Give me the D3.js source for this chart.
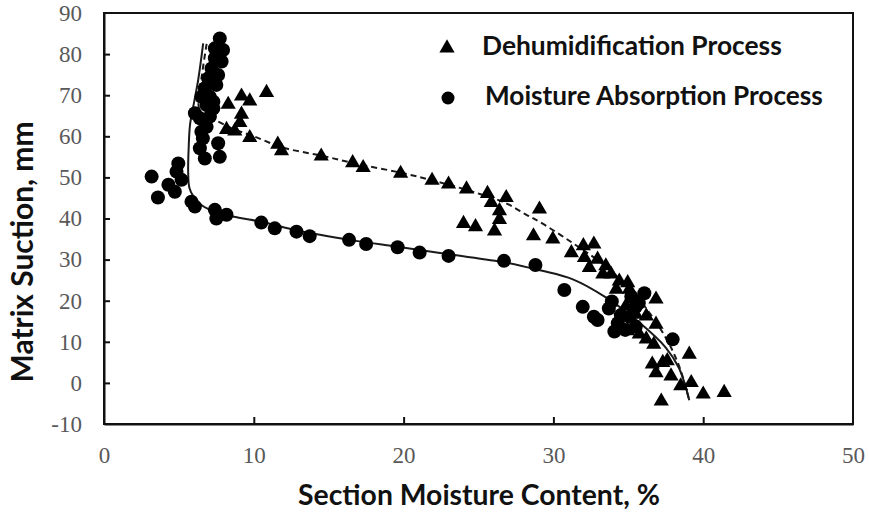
<!DOCTYPE html>
<html><head><meta charset="utf-8">
<script src="https://cdn.jsdelivr.net/npm/d3@7"></script>
<style>body{margin:0;background:#fff}svg{display:block}</style>
</head><body>
<svg id="c" width="869" height="514"></svg>
<script>
// ---- data ----
const xTicks = [0, 10, 20, 30, 40, 50];
const yTicks = [-10, 0, 10, 20, 30, 40, 50, 60, 70, 80, 90];
const xTitle = "Section Moisture Content, %";
const yTitle = "Matrix Suction, mm";
const seriesNames = ["Dehumidification Process", "Moisture Absorption Process"];

// Dehumidification Process (triangles)
const dehumX = [10.85,9.18,9.73,8.29,9.18,9.07,8.18,8.73,9.73,11.6,11.85,14.5,16.6,17.3,19.8,21.9,23.0,24.2,25.6,26.85,25.85,26.4,26.4,24.0,24.8,26.07,29.07,28.67,29.96,31.2,32.0,32.7,32.07,32.4,32.95,33.5,33.3,33.85,34.4,34.96,35.07,34.2,36.85,34.85,35.5,36.2,36.85,34.96,35.73,36.2,36.7,39.07,36.6,37.3,36.85,37.85,37.6,39.2,38.5,40.0,41.4,37.2];
const dehumY = [70.9,70.0,68.8,68.0,65.6,63.6,61.9,61.5,59.9,58.3,56.7,55.4,53.8,52.6,51.2,49.5,48.6,47.4,46.3,45.3,44.1,42.1,40.0,39.0,38.2,37.2,42.5,36.0,35.2,31.9,33.6,34.0,30.7,28.3,30.3,28.7,26.7,26.7,25.0,24.6,23.0,23.0,20.6,19.0,16.9,16.5,14.5,12.9,12.1,10.9,9.6,7.2,4.8,5.2,2.7,1.9,5.6,0.3,-0.5,-2.5,-2.1,-4.2];

// Moisture Absorption Process (circles)
const absorbX = [7.73,7.95,7.4,7.4,7.18,6.95,7.5,6.73,7.3,6.85,6.07,6.4,7.07,6.5,6.85,6.6,7.62,6.4,6.73,7.73,7.62,7.3,7.07,6.5,7.85,
  3.18,3.6,4.3,4.73,4.96,4.84,5.18,5.84,6.07,7.4,7.5,8.18,
  10.5,11.4,12.85,13.73,16.36,17.5,19.6,21.07,23.0,26.7,28.8,
  30.73,31.96,32.7,32.95,33.7,34.07,34.3,35.07,35.5,36.07,35.7,37.96,33.9,34.8,35.5,34.5,35.2];
const absorbY = [83.8,81.0,81.4,79.0,76.5,74.1,72.5,71.7,68.4,67.6,65.6,64.4,64.8,61.1,62.3,59.5,58.3,57.1,54.6,55.0,74.9,66.8,69.6,69.6,78.2,
  50.2,45.1,48.2,46.5,53.4,51.4,49.4,44.1,42.9,42.1,40.0,40.9,
  39.0,37.6,36.8,35.7,34.8,33.8,33.0,31.7,30.9,29.7,28.7,
  22.6,18.5,16.1,15.3,18.1,12.5,14.5,16.1,18.5,21.8,19.4,10.6,19.8,12.9,13.7,16.5,21.0];

// trend lines
const dehumFitX = [6.85,6.5,6.3,6.5,7.3,8.5,10,12,14.5,17,20,22.4,24.8,26.85,28.2,29.07,31.3,33.5,35.7,37.5,38.4,39.07];
const dehumFitY = [82.5,74,68,65.5,64.2,62,60,57.2,55.3,53.2,51.0,48.8,46.3,43.7,40.9,39.2,34,28.3,20.4,11,4,-4.2];
const absorbFitX = [6.62,6.3,6.0,5.75,5.65,5.62,5.7,5.95,6.5,7.6,9,10.5,13,16.4,19.6,23,26.8,29.1,31.3,33.5,35.7,37.5,38.4,39.07];
const absorbFitY = [82.6,74,68,63,57,51,47.5,45.5,43.3,41.4,40.2,39.2,37,34.8,33.1,31.3,29.3,27.4,25.2,20.8,14.8,8.6,3.5,-4.2];

// ---- drawing ----
const svg = d3.select("#c");
const L = 104, R = 853, T = 13, B = 424;
const x = d3.scaleLinear().domain([0, 50]).range([L, R]);
const y = d3.scaleLinear().domain([-10, 90]).range([B, T]);
const ink = "#111";
const serif = "'Liberation Serif', 'DejaVu Serif', serif";

function fitText(sel, target, base) {
  sel.style("font-size", base + "px");
  const w = sel.node().getComputedTextLength();
  sel.style("font-size", (base * target / w) + "px");
}

// frame
svg.append("rect").attr("x", L).attr("y", T).attr("width", R - L).attr("height", B - T)
  .attr("fill", "none").attr("stroke", ink).attr("stroke-width", 2);

// axes
const fmt = d => String(d);
const ax = svg.append("g").attr("transform", `translate(0,${B})`)
  .call(d3.axisBottom(x).tickValues(xTicks).tickSize(-7).tickSizeOuter(0).tickPadding(23).tickFormat(fmt));
const ay = svg.append("g").attr("transform", `translate(${L},0)`)
  .call(d3.axisLeft(y).tickValues(yTicks).tickSize(-6).tickSizeOuter(0).tickPadding(22).tickFormat(fmt));
[ax, ay].forEach(g => {
  g.attr("font-family", serif).attr("font-size", 23);
  g.select(".domain").attr("stroke", ink).attr("stroke-width", 2);
  g.selectAll(".tick line").attr("stroke", ink).attr("stroke-width", 2);
  g.selectAll(".tick text").attr("fill", "#595959")
    .style("font-family", serif).style("font-size", "23px");
});
// hide ticks at the frame corners
ax.selectAll(".tick").filter(d => d === 0 || d === 50).select("line").remove();
ay.selectAll(".tick").filter(d => d === -10 || d === 90).select("line").remove();

// trend lines
const line = d3.line().curve(d3.curveCatmullRom.alpha(0.5));
svg.append("path")
  .attr("d", line(absorbFitX.map((v, i) => [x(v), y(absorbFitY[i])])))
  .attr("fill", "none").attr("stroke", "#1a1a1a").attr("stroke-width", 2);
svg.append("path")
  .attr("d", line(dehumFitX.map((v, i) => [x(v), y(dehumFitY[i])])))
  .attr("fill", "none").attr("stroke", "#1a1a1a").attr("stroke-width", 2)
  .attr("stroke-dasharray", "6,4");

// markers
const tri = d3.symbol().type(d3.symbolTriangle).size(100);
svg.append("g").selectAll("circle").data(absorbX).join("circle")
  .attr("cx", (d) => x(d)).attr("cy", (d, i) => y(absorbY[i])).attr("r", 7).attr("fill", "#000");
svg.append("g").selectAll("path").data(dehumX).join("path")
  .attr("d", tri).attr("transform", (d, i) => `translate(${x(d)},${y(dehumY[i]) + 1})`).attr("fill", "#000");

// legend
const lf = "Lato, 'Open Sans', sans-serif";
svg.append("path").attr("d", tri).attr("transform", "translate(447,48)").attr("fill", "#000");
svg.append("circle").attr("cx", 448).attr("cy", 98).attr("r", 6.5).attr("fill", "#000");
const t1 = svg.append("text").attr("x", 482).attr("y", 55).text(seriesNames[0])
  .style("font-family", lf).style("font-weight", 700).attr("fill", "#111");
fitText(t1, 300, 22);
const t2 = svg.append("text").attr("x", 485).attr("y", 105).text(seriesNames[1])
  .style("font-family", lf).style("font-weight", 700).attr("fill", "#111");
fitText(t2, 338, 22);

// axis titles
const xt = svg.append("text").attr("x", 479).attr("y", 505).attr("text-anchor", "middle").text(xTitle)
  .style("font-family", lf).style("font-weight", 700).attr("fill", "#111");
fitText(xt, 362, 24);
const yt = svg.append("text").attr("transform", "translate(33,252) rotate(-90)").attr("text-anchor", "middle").text(yTitle)
  .style("font-family", lf).style("font-weight", 700).attr("fill", "#111");
fitText(yt, 261, 24);
</script>
</body></html>
